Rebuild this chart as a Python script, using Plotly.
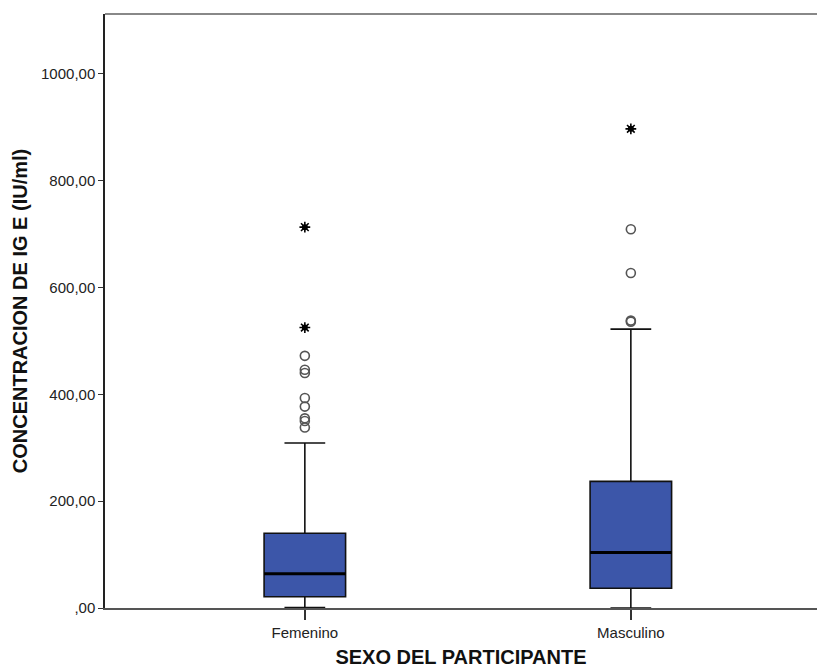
import plotly.graph_objects as go

categories = ["Femenino", "Masculino"]
q1 = [21, 37]
median = [64, 104]
q3 = [140, 237]
lower_fence = [1, 0]
upper_fence = [309, 522]

outliers_fem = [338, 350, 355, 377, 393, 440, 446, 472]
extremes_fem = [525, 713]
outliers_mas = [536, 538, 627, 709]
extremes_mas = [897]

y_tickvals = [0, 200, 400, 600, 800, 1000]
y_ticktext = [",00", "200,00", "400,00", "600,00", "800,00", "1000,00"]

fill = "#3C56A9"
fig = go.Figure()

fig.add_trace(go.Box(
    x=categories, q1=q1, median=median, q3=q3,
    lowerfence=lower_fence, upperfence=upper_fence,
    boxpoints=False, fillcolor=fill,
    line=dict(color="#111111", width=1.6),
    width=0.25, whiskerwidth=0.5, showlegend=False, hoverinfo="skip",
))
# thick median line overlay
fig.add_trace(go.Box(
    x=categories, q1=median, median=median, q3=median,
    lowerfence=median, upperfence=median,
    boxpoints=False, fillcolor="rgba(0,0,0,0)",
    line=dict(color="#000000", width=3),
    width=0.25, whiskerwidth=0, showlegend=False, hoverinfo="skip",
))

out_x = [categories[0]] * len(outliers_fem) + [categories[1]] * len(outliers_mas)
out_y = outliers_fem + outliers_mas
fig.add_trace(go.Scatter(
    x=out_x, y=out_y, mode="markers",
    marker=dict(symbol="circle-open", size=9, color="#555555", line=dict(width=1.6)),
    showlegend=False, hoverinfo="skip",
))
ext_x = [categories[0]] * len(extremes_fem) + [categories[1]] * len(extremes_mas)
ext_y = extremes_fem + extremes_mas
fig.add_trace(go.Scatter(
    x=ext_x, y=ext_y, mode="markers",
    marker=dict(symbol="circle", size=6, color="#000000"),
    showlegend=False, hoverinfo="skip",
))
fig.add_trace(go.Scatter(
    x=ext_x, y=ext_y, mode="markers",
    marker=dict(symbol="asterisk-open", size=9, color="#000000", line=dict(width=1.6, color="#000000")),
    showlegend=False, hoverinfo="skip",
))

fig.update_layout(
    width=817, height=668,
    margin=dict(l=105, r=0, t=14, b=60),
    paper_bgcolor="white", plot_bgcolor="white",
    boxmode="overlay",
    font=dict(family="Liberation Sans, Arial, sans-serif", color="#222222"),
    xaxis=dict(
        type="category", range=[-0.613, 1.571],
        showline=True, linecolor="#555555", linewidth=2,
        ticks="outside", ticklen=10, tickcolor="#333333", tickwidth=1.5,
        tickfont=dict(size=15, color="#222222"),
        showgrid=False, zeroline=False,
        title=dict(text="<b>SEXO DEL PARTICIPANTE</b>", font=dict(size=20, color="#111111"), standoff=10),
    ),
    yaxis=dict(
        range=[0, 1112],
        tickvals=y_tickvals, ticktext=y_ticktext,
        showline=True, linecolor="#222222", linewidth=1.5,
        ticks="outside", ticklen=5, tickcolor="#333333",
        tickfont=dict(size=15, color="#222222"),
        showgrid=False, zeroline=False,
        title=dict(text="<b>CONCENTRACION DE IG E (IU/ml)</b>", font=dict(size=20, color="#111111"), standoff=8),
    ),
    shapes=[dict(type="line", xref="paper", yref="paper", x0=0, x1=1, y0=1, y1=1,
                 line=dict(color="#888888", width=2))],
)

fig.write_html("out.html")
